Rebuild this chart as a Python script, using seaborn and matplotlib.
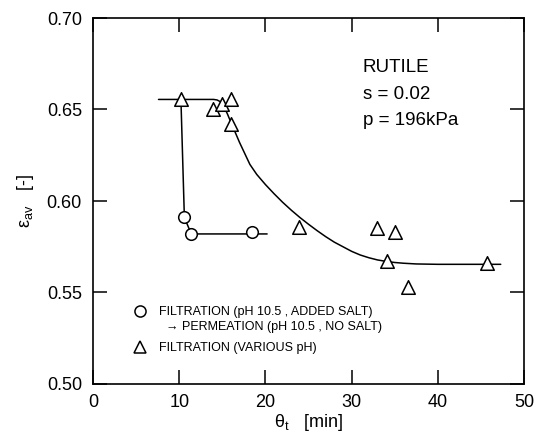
import matplotlib
matplotlib.use("Agg")
import matplotlib.pyplot as plt
import seaborn as sns
import pandas as pd
from matplotlib.lines import Line2D

# =========================
# DATA
# =========================
# open circles: filtration (pH 10.5, added salt) -> permeation
circ_t = [10.6, 11.4, 18.4]
circ_eps = [0.591, 0.582, 0.583]

# open triangles: filtration (various pH)
tri_t = [10.2, 13.9, 15.0, 16.0, 16.0, 23.9, 33.0, 35.0, 34.1, 36.5, 45.7]
tri_eps = [0.6555, 0.650, 0.653, 0.6555, 0.642, 0.586, 0.585, 0.583, 0.567, 0.553, 0.566]

# hand drawn line through the circles
line1_t = [7.6, 10.2, 10.6, 11.4, 20.2]
line1_eps = [0.6555, 0.6555, 0.591, 0.582, 0.582]

# smooth curve through the triangles
line2_t = [10.2, 14.0, 14.4, 14.8, 15.2, 15.6, 16.0, 16.5, 17.0, 17.6, 18.2,
           19.0, 20.0, 21.0, 22.0, 23.0, 24.0, 25.0, 26.0, 27.0, 28.0, 29.0,
           30.0, 31.0, 32.0, 33.0, 34.0, 35.0, 36.0, 37.5, 40.0, 47.3]
line2_eps = [0.6555, 0.6555, 0.6552, 0.6542, 0.6515, 0.6475, 0.643, 0.6375,
             0.632, 0.626, 0.620, 0.6145, 0.609, 0.604, 0.5993, 0.595, 0.591,
             0.5873, 0.5838, 0.5805, 0.5775, 0.575, 0.5725, 0.5705, 0.569,
             0.5678, 0.567, 0.5664, 0.566, 0.5656, 0.5654, 0.5654]

x_ticks = [0, 10, 20, 30, 40, 50]
y_ticks = [0.50, 0.55, 0.60, 0.65, 0.70]

legend_labels = ["FILTRATION (pH 10.5 , ADDED SALT)",
                 "\u2192 PERMEATION (pH 10.5 , NO SALT)",
                 "FILTRATION (VARIOUS pH)"]
info_text = "RUTILE\ns = 0.02\np = 196kPa"

# =========================
# STYLE
# =========================
sns.set_style("ticks")
plt.rcParams["font.family"] = ["Liberation Sans", "DejaVu Sans"]
plt.rcParams["mathtext.fontset"] = "custom"
plt.rcParams["mathtext.rm"] = "Liberation Sans"
plt.rcParams["mathtext.it"] = "Liberation Sans:italic"
for key in ["text.color", "axes.labelcolor", "xtick.color", "ytick.color"]:
    plt.rcParams[key] = "black"

fig = plt.figure(figsize=(5.41, 4.46), dpi=100)
ax = fig.add_axes([93 / 541, 1 - 384 / 446, 431 / 541, 366 / 446])

df1 = pd.DataFrame({"t": line1_t, "eps": line1_eps})
df2 = pd.DataFrame({"t": line2_t, "eps": line2_eps})
sns.lineplot(data=df1, x="t", y="eps", ax=ax, color="black", lw=1.1,
             sort=False, estimator=None, zorder=2)
sns.lineplot(data=df2, x="t", y="eps", ax=ax, color="black", lw=1.1,
             sort=False, estimator=None, zorder=2)

dfc = pd.DataFrame({"t": circ_t, "eps": circ_eps})
dft = pd.DataFrame({"t": tri_t, "eps": tri_eps})
sns.scatterplot(data=dfc, x="t", y="eps", ax=ax, marker="o", s=70,
                facecolor="white", edgecolor="black", linewidth=1.1, zorder=3)
sns.scatterplot(data=dft, x="t", y="eps", ax=ax, marker="^", s=95,
                facecolor="white", edgecolor="black", linewidth=1.1, zorder=3)

ax.set_xlim(0, 50)
ax.set_ylim(0.50, 0.70)
ax.set_xticks(x_ticks)
ax.set_yticks(y_ticks)
ax.set_yticklabels([f"{v:.2f}" for v in y_ticks])

ax.tick_params(direction="in", length=10, width=1.1, labelsize=13,
               top=True, right=True)
ax.tick_params(axis="x", pad=7)
ax.tick_params(axis="y", pad=8)
for sp in ax.spines.values():
    sp.set_linewidth(1.2)
    sp.set_color("black")

ax.set_xlabel(r"$\mathrm{\theta_t}$   [min]", fontsize=13, labelpad=1)
ax.set_ylabel(r"$\mathrm{\varepsilon_{av}}$   [-]", fontsize=13, labelpad=8)

ax.text(0.626, 0.888, info_text, transform=ax.transAxes, fontsize=13.5,
        va="top", ha="left", linespacing=1.74)

# legend
handles = [
    Line2D([], [], ls="none", marker="o", ms=8, mfc="white", mec="black", mew=1.1),
    Line2D([], [], ls="none"),
    Line2D([], [], ls="none", marker="^", ms=9, mfc="white", mec="black", mew=1.1),
]
leg = ax.legend(handles, legend_labels, loc="lower left",
                bbox_to_anchor=(0.083, 0.067), frameon=False, fontsize=9,
                handlelength=1.0, handletextpad=1.05, labelspacing=0.5,
                borderaxespad=0)
# the arrow line is indented and sits a bit closer to the first entry
leg.get_texts()[1].set_x(7)
leg.get_texts()[1].set_y(3)

fig.savefig("out.png", dpi=100)
